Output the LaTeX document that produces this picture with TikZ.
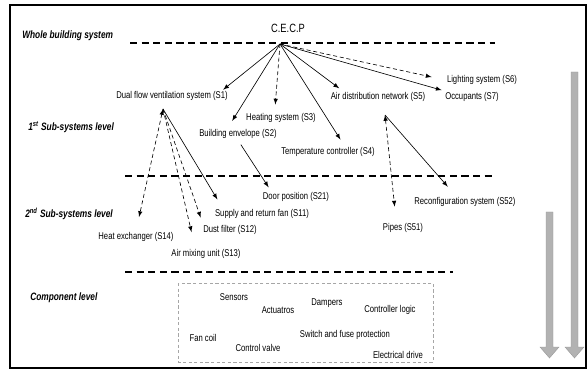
\documentclass[tikz,border=0pt]{standalone}
\usepackage{fontspec}
\setmainfont{Liberation Sans}[FakeStretch=0.78]
\usepackage{tikz}

\begin{document}
\begin{tikzpicture}[x=0.025cm, y=-0.025cm, >=latex,
  lbl/.style = {inner sep=1pt, font=\fontsize{7}{8}\selectfont},
  lvl/.style = {anchor=west, inner sep=0pt, font=\fontsize{7.6}{9}\selectfont\bfseries\itshape},
  sep/.style = {line width=0.8pt, dash pattern=on 1.8mm off 1.1mm},
  link/.style = {->, line width=0.45pt},
  dlink/.style = {->, line width=0.45pt, dash pattern=on 1mm off 0.7mm},
  bigarrow/.style = {fill=gray!60, draw=gray!80, line width=0.3pt}]

\useasboundingbox (0,0) rectangle (587,381);
\draw[line width=1pt] (10,5) rectangle (586,368);

% level names
\node[lvl] (whole) at (22,36) {Whole building system};
\node[lvl] (lvl1) at (28,127) {1\textsuperscript{st} Sub-systems level};
\node[lvl] (lvl2) at (25,214) {2\textsuperscript{nd} Sub-systems level};
\node[lvl] (comp) at (30,298) {Component level};

\draw[sep] (130,43) -- (495,43);
\draw[sep] (125,176) -- (493,176);
\draw[sep] (125,272) -- (453,272);

\node[inner sep=1pt, font=\fontsize{8.5}{10}\selectfont] (cecp) at (288,28) {C.E.C.P};
\coordinate (hub) at (280,44);

% first sub-systems
\node[lbl] (s1) at (172,96) {Dual flow ventilation system (S1)};
\node[lbl] (s3) at (281,118) {Heating system (S3)};
\node[lbl] (s2) at (238,134) {Building envelope (S2)};
\node[lbl] (s4) at (328,152) {Temperature controller (S4)};
\node[lbl] (s5) at (378,97) {Air distribution network (S5)};
\node[lbl] (s6) at (482,80) {Lighting system (S6)};
\node[lbl] (s7) at (472,97) {Occupants (S7)};

% second sub-systems
\node[lbl] (s21) at (296,197) {Door position (S21)};
\node[lbl] (s52) at (465,202) {Reconfiguration system (S52)};
\node[lbl] (s11) at (262,214) {Supply and return fan (S11)};
\node[lbl] (s51) at (403,228) {Pipes (S51)};
\node[lbl] (s12) at (230,230) {Dust filter (S12)};
\node[lbl] (s14) at (136,237) {Heat exchanger (S14)};
\node[lbl] (s13) at (206,254) {Air mixing unit (S13)};

\coordinate (s1f) at (163,109);
\coordinate (s5f) at (385,115);

\draw[link] (hub) -- (s1.7);
\draw[link, shorten >=2mm] (hub) -- (s2.148);
\draw[dlink, shorten >=1.8mm] (hub) -- (s3.135);
\draw[link, shorten >=1.8mm] (hub) -- (s4.21);
\draw[link, shorten >=1mm] (hub) -- (s5.170);
\draw[dlink, shorten >=3.5mm] (hub) -- (s6.west);
\draw[link, shorten >=.5mm] (hub) -- (s7.north west);

\draw[dlink, <->, shorten >=3.5mm] (s1f) -- (s14.north);
\draw[dlink, shorten >=4mm] (s1f) -- (s13.150);
\draw[dlink, shorten >=1.6mm] (s1f) -- (s12.167);
\draw[link, shorten >=2.4mm] (s1f) -- (s11.171);

\draw[link, shorten <=1.3mm, shorten >=1mm] (s2.south) -- (s21.166);

\draw[dlink, <->, shorten >=3.8mm] (s5f) -- (s51.137);
\draw[link, shorten >=3mm] (s5f) -- (s52.146);

% component level
\draw[gray!70, line width=0.4pt, dash pattern=on 0.8mm off 0.6mm] (178,283) rectangle (433,362);
\node[lbl] (c1) at (234,297) {Sensors};
\node[lbl] (c2) at (278,310) {Actuatros};
\node[lbl] (c3) at (327,303) {Dampers};
\node[lbl] (c4) at (390,310) {Controller logic};
\node[lbl] (c5) at (203,338) {Fan coil};
\node[lbl] (c6) at (258,348) {Control valve};
\node[lbl] (c7) at (345,335) {Switch and fuse protection};
\node[lbl] (c8) at (398,355) {Electrical drive};

% gray arrows
\draw[bigarrow] (571,72) -- (578,72) -- (578,347) -- (584,347) -- (574.5,358) -- (565,347) -- (571,347) -- cycle;
\draw[bigarrow] (546,212) -- (553,212) -- (553,347) -- (559,347) -- (549.5,358) -- (540,347) -- (546,347) -- cycle;
\end{tikzpicture}
\end{document}
